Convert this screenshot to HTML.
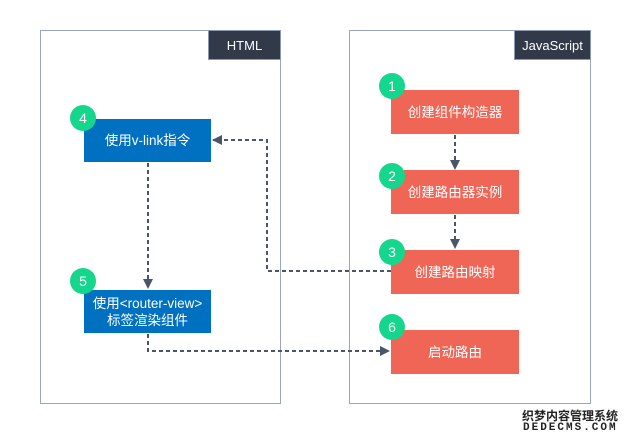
<!DOCTYPE html>
<html><head><meta charset="utf-8"><style>
body{margin:0;width:632px;height:442px;background:#fff;position:relative;overflow:hidden;font-family:"Liberation Sans","Noto Sans CJK SC",sans-serif}
.c{position:absolute;border:1px solid #9aa6bd;box-sizing:border-box}
.lb{position:absolute;background:#323a4a;color:#fff;font-size:13px;display:flex;align-items:center;justify-content:center;border:1px solid #8899b0;box-sizing:border-box}
.b{position:absolute;color:#fff;font-size:13.5px;display:flex;align-items:center;justify-content:center;text-align:center;line-height:17px}
.blue{background:#0070c0}.red{background:#f06656}
.n{position:absolute;width:26px;height:26px;border-radius:50%;background:#14d68c;color:#fff;font-size:14px;display:flex;align-items:center;justify-content:center}
</style></head><body>
<div class="c" style="left:40px;top:30px;width:241px;height:374px"></div>
<div class="lb" style="left:208px;top:30px;width:73px;height:30px">HTML</div>
<div class="c" style="left:349px;top:30px;width:242px;height:374px"></div>
<div class="lb" style="left:514px;top:30px;width:77px;height:30px">JavaScript</div>
<svg style="position:absolute;left:0;top:0" width="632" height="442">
<defs><marker id="a" markerWidth="10" markerHeight="10" refX="9" refY="5" orient="auto" markerUnits="userSpaceOnUse"><path d="M0,0L10,5L0,10z" fill="#4a5568"/></marker></defs>
<g stroke="#4a5568" stroke-width="2" stroke-dasharray="4,3" fill="none">
<path d="M391,271H267V140H213" marker-end="url(#a)"/>
<path d="M148,163V288" marker-end="url(#a)"/>
<path d="M148,334V351H389" marker-end="url(#a)"/>
<path d="M455,135V169" marker-end="url(#a)"/>
<path d="M455,215V248" marker-end="url(#a)"/>
</g></svg>
<div class="b blue" style="left:84px;top:119px;width:127px;height:43px">使用v-link指令</div>
<div class="b blue" style="left:84px;top:290px;width:127px;height:43px">使用&lt;router-view&gt;<br>标签渲染组件</div>
<div class="b red" style="left:391px;top:90px;width:128px;height:44px">创建组件构造器</div>
<div class="b red" style="left:391px;top:170px;width:128px;height:44px">创建路由器实例</div>
<div class="b red" style="left:391px;top:250px;width:128px;height:44px">创建路由映射</div>
<div class="b red" style="left:391px;top:330px;width:128px;height:44px">启动路由</div>
<div class="n" style="left:70px;top:105px">4</div>
<div class="n" style="left:70px;top:268px">5</div>
<div class="n" style="left:379px;top:73px">1</div>
<div class="n" style="left:379px;top:163px">2</div>
<div class="n" style="left:379px;top:239px">3</div>
<div class="n" style="left:379px;top:314px">6</div>
<div style="position:absolute;left:522px;top:407px;font-size:12px;font-weight:bold;color:#222">织梦内容管理系统</div>
<div style="position:absolute;left:523px;top:422px;font-size:11px;font-weight:bold;color:#222;letter-spacing:2px;font-family:'Liberation Mono',monospace">DEDECMS.COM</div>
</body></html>
